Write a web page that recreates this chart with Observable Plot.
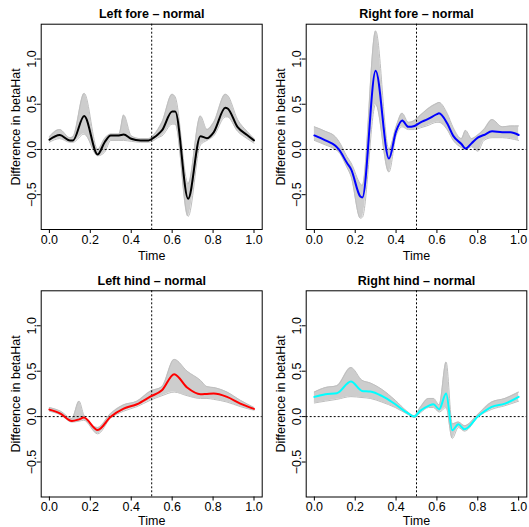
<!DOCTYPE html>
<html><head><meta charset="utf-8">
<script src="https://cdn.jsdelivr.net/npm/d3@7"></script>
<script src="https://cdn.jsdelivr.net/npm/@observablehq/plot@0.6"></script>
<style>
body{margin:0;background:#fff;}
#chart{position:relative;width:529px;height:527px;background:#fff;overflow:hidden;}
#chart svg{position:absolute;}
</style></head><body><div id="chart"></div>
<script>
const xTicks = [0, 0.2, 0.4, 0.6, 0.8, 1.0];
const yTicks = [-0.5, 0, 0.5, 1.0];
const titles = ["Left fore – normal", "Right fore – normal", "Left hind – normal", "Right hind – normal"];
const meanColors = ["#000000", "#0000ff", "#ff0000", "#00ffff"];

// Left fore
const lfTime  = [0.00, 0.05, 0.10, 0.115, 0.17, 0.236, 0.27, 0.30, 0.34, 0.363, 0.40, 0.445, 0.485, 0.51, 0.53, 0.55, 0.60, 0.615, 0.678, 0.738, 0.77, 0.803, 0.86, 0.87, 0.92, 0.966, 1.00];
const lfMean  = [0.107, 0.16, 0.10, 0.10, 0.37, -0.055, 0.08, 0.155, 0.155, 0.165, 0.118, 0.10, 0.10, 0.13, 0.165, 0.21, 0.42, 0.42, -0.545, 0.147, 0.125, 0.19, 0.46, 0.455, 0.246, 0.16, 0.10];
const lfLower = [0.08, 0.12, 0.08, 0.08, 0.17, -0.07, -0.03, 0.10, 0.10, 0.10, 0.09, 0.08, 0.08, 0.10, 0.13, 0.15, 0.28, 0.28, -0.74, 0.05, 0.10, 0.15, 0.36, 0.36, 0.20, 0.12, 0.07];
const lfUpper = [0.14, 0.22, 0.13, 0.14, 0.62, 0.0, 0.12, 0.17, 0.17, 0.38, 0.15, 0.12, 0.12, 0.16, 0.22, 0.30, 0.61, 0.58, -0.38, 0.37, 0.22, 0.30, 0.61, 0.60, 0.33, 0.20, 0.12];

// Right fore
const rfTime  = [0.00, 0.054, 0.103, 0.12, 0.16, 0.18, 0.225, 0.235, 0.30, 0.365, 0.40, 0.43, 0.46, 0.49, 0.52, 0.55, 0.60, 0.61, 0.65, 0.68, 0.72, 0.74, 0.77, 0.80, 0.83, 0.87, 0.92, 0.96, 1.00];
const rfMean  = [0.155, 0.10, 0.04, 0.0, -0.15, -0.22, -0.52, -0.53, 0.87, -0.10, 0.20, 0.32, 0.25, 0.26, 0.30, 0.33, 0.39, 0.40, 0.29, 0.15, 0.06, 0.01, 0.07, 0.13, 0.16, 0.20, 0.19, 0.19, 0.16];
const rfLower = [0.10, 0.05, 0.0, -0.03, -0.20, -0.30, -0.76, -0.75, 0.50, -0.25, 0.15, 0.25, 0.22, 0.22, 0.24, 0.26, 0.30, 0.30, 0.22, 0.10, 0.02, 0.0, 0.03, -0.02, 0.10, 0.13, 0.13, 0.12, 0.10];
const rfUpper = [0.25, 0.20, 0.14, 0.09, -0.08, -0.15, -0.38, -0.40, 1.31, 0.0, 0.25, 0.40, 0.30, 0.32, 0.38, 0.44, 0.51, 0.52, 0.40, 0.24, 0.12, 0.21, 0.12, 0.16, 0.22, 0.33, 0.25, 0.26, 0.26];

// Left hind
const lhTime  = [0.00, 0.054, 0.11, 0.145, 0.168, 0.236, 0.298, 0.363, 0.428, 0.493, 0.55, 0.61, 0.673, 0.738, 0.77, 0.803, 0.868, 0.933, 1.00];
const lhMean  = [0.077, 0.033, -0.048, -0.03, -0.011, -0.147, -0.004, 0.088, 0.136, 0.22, 0.29, 0.467, 0.32, 0.246, 0.25, 0.254, 0.217, 0.143, 0.085];
const lhLower = [0.06, 0.02, -0.06, -0.05, -0.04, -0.19, -0.02, 0.06, 0.11, 0.18, 0.23, 0.27, 0.23, 0.20, 0.20, 0.19, 0.16, 0.11, 0.07];
const lhUpper = [0.10, 0.06, -0.02, 0.17, 0.02, -0.12, 0.03, 0.13, 0.17, 0.28, 0.33, 0.63, 0.50, 0.40, 0.33, 0.32, 0.27, 0.18, 0.10];

// Right hind
const rhTime  = [0.00, 0.054, 0.11, 0.179, 0.233, 0.274, 0.33, 0.396, 0.453, 0.489, 0.518, 0.559, 0.583, 0.611, 0.645, 0.675, 0.705, 0.735, 0.803, 0.868, 0.933, 1.00];
const rhMean  = [0.217, 0.246, 0.257, 0.386, 0.283, 0.276, 0.228, 0.136, 0.044, 0.0, 0.063, 0.118, 0.136, 0.081, 0.254, -0.15, -0.085, -0.14, 0.007, 0.107, 0.143, 0.217];
const rhLower = [0.15, 0.17, 0.19, 0.22, 0.21, 0.20, 0.16, 0.10, 0.03, -0.01, 0.04, 0.10, 0.10, 0.05, 0.10, -0.24, -0.12, -0.16, 0.0, 0.08, 0.12, 0.17];
const rhUpper = [0.27, 0.32, 0.34, 0.54, 0.40, 0.37, 0.30, 0.18, 0.06, 0.01, 0.10, 0.20, 0.20, 0.13, 0.60, -0.08, -0.06, -0.10, 0.03, 0.16, 0.20, 0.27];

const series = [
  [lfTime, lfMean, lfLower, lfUpper],
  [rfTime, rfMean, rfLower, rfUpper],
  [lhTime, lhMean, lhLower, lhUpper],
  [rhTime, rhMean, rhLower, rhUpper]
];

const FONT = "'Liberation Sans', Arial, Helvetica, sans-serif";
const FS = 12.5;
const fmt = d3.format(".1f");
const CURVE = "monotone-x";

function panel(i) {
  const col = i % 2, row = Math.floor(i / 2);
  const [t, m, lo, hi] = series[i];
  const rows = t.map((d, k) => ({t: d, m: m[k], lo: lo[k], hi: hi[k]}));
  const width = col === 0 ? 264 : 265;
  const height = row === 0 ? 264 : 263;
  const marginLeft = col === 0 ? 40.7 : 41.7;
  const marginRight = col === 0 ? 2.3 : 2.7;
  const marginTop = row === 0 ? 23.7 : 26.3;
  const marginBottom = row === 0 ? 35 : 30.5;
  const timeDy = row === 0 ? 26.3 : 24.4;
  const titleDy = row === 0 ? -10.4 : -9.8;
  const svg = Plot.plot({
    width, height, marginLeft, marginRight, marginTop, marginBottom,
    style: {fontFamily: FONT, fontSize: FS + "px", background: "white", overflow: "visible", color: "black"},
    x: {domain: [-0.04, 1.04]},
    y: {domain: [-0.885, 1.385]},
    marks: [
      Plot.areaY(rows, {x: "t", y1: "lo", y2: "hi", fill: "#cdcdcd", curve: CURVE}),
      Plot.lineY(rows, {x: "t", y: "lo", stroke: "#bebebe", strokeWidth: 1, curve: CURVE}),
      Plot.lineY(rows, {x: "t", y: "hi", stroke: "#bebebe", strokeWidth: 1, curve: CURVE}),
      Plot.ruleY([0], {stroke: "black", strokeWidth: 1, strokeDasharray: "2,2"}),
      Plot.ruleX([0.5], {stroke: "black", strokeWidth: 1, strokeDasharray: "2,2"}),
      Plot.lineY(rows, {x: "t", y: "m", stroke: meanColors[i], strokeWidth: 2, curve: CURVE}),
      Plot.frame({stroke: "black", strokeWidth: 1}),
      Plot.axisX({ticks: xTicks, tickFormat: fmt, tickSize: 4, tickPadding: row === 0 ? 2 : 1.5, label: null, fontSize: FS}),
      Plot.axisY({ticks: yTicks, tickFormat: fmt, tickSize: 4, tickPadding: 1, tickRotate: -90, label: null, fontSize: FS}),
      Plot.text([titles[i]], {text: d => d, frameAnchor: "top", dy: titleDy, lineAnchor: "middle", textAnchor: "middle", fontWeight: "bold", fontSize: FS}),
      Plot.text(["Time"], {text: d => d, frameAnchor: "bottom", dy: timeDy, lineAnchor: "middle", textAnchor: "middle", fontSize: FS}),
      Plot.text(["Difference in betaHat"], {text: d => d, frameAnchor: "left", dx: -25.5, rotate: -90, lineAnchor: "middle", textAnchor: "middle", fontSize: FS})
    ]
  });
  svg.style.left = (col === 0 ? 0 : 264) + "px";
  svg.style.top = (row === 0 ? 0 : 264) + "px";
  return svg;
}

const chart = document.getElementById("chart");
for (let i = 0; i < 4; i++) chart.appendChild(panel(i));
</script>
</body></html>
